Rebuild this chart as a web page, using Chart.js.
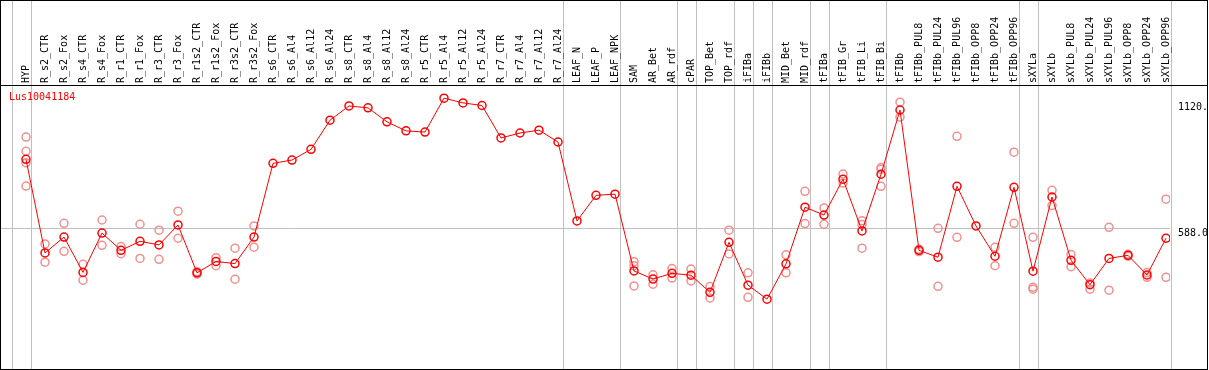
<!DOCTYPE html>
<html>
<head>
<meta charset="utf-8">
<style>
  html, body { margin: 0; padding: 0; background: #fff; }
  canvas { display: block; }
</style>
<script src="https://cdn.jsdelivr.net/npm/chart.js@4.4.1/dist/chart.umd.min.js"></script>
</head>
<body>
<canvas id="chart" width="1209" height="370"></canvas>
<script>
const geneName = "Lus10041184";

const categories = [
  "HYP", "R_s2_CTR", "R_s2_Fox", "R_s4_CTR", "R_s4_Fox", "R_r1_CTR", "R_r1_Fox",
  "R_r3_CTR", "R_r3_Fox", "R_r1s2_CTR", "R_r1s2_Fox", "R_r3s2_CTR", "R_r3s2_Fox",
  "R_s6_CTR", "R_s6_Al4", "R_s6_Al12", "R_s6_Al24", "R_s8_CTR", "R_s8_Al4",
  "R_s8_Al12", "R_s8_Al24", "R_r5_CTR", "R_r5_Al4", "R_r5_Al12", "R_r5_Al24",
  "R_r7_CTR", "R_r7_Al4", "R_r7_Al12", "R_r7_Al24", "LEAF_N", "LEAF_P", "LEAF_NPK",
  "SAM", "AR_Bet", "AR_rdf", "cPAR", "TOP_Bet", "TOP_rdf", "iFIBa", "iFIBb",
  "MID_Bet", "MID_rdf", "tFIBa", "tFIB_Gr", "tFIB_Li", "tFIB_Bi", "tFIBb",
  "tFIBb_PUL8", "tFIBb_PUL24", "tFIBb_PUL96", "tFIBb_OPP8", "tFIBb_OPP24", "tFIBb_OPP96",
  "sXYLa", "sXYLb", "sXYLb_PUL8", "sXYLb_PUL24", "sXYLb_PUL96", "sXYLb_OPP8",
  "sXYLb_OPP24", "sXYLb_OPP96"
];

// mean expression per sample
const meanValues = [
  879, 484, 551, 402, 568, 495, 533, 518, 602, 400, 448, 439, 551,
  862, 876, 921, 1044, 1104, 1096, 1037, 999, 994, 1137, 1117, 1106,
  969, 990, 1002, 952, 619, 727, 732,
  408, 374, 398, 390, 318, 529, 348, 289, 438, 677,
  644, 795, 577, 816, 1087,
  495, 466, 765, 598, 470, 761,
  407, 720, 453, 350, 461, 474, 391, 546
];

// individual replicates (null = hidden under the mean / not present)
const repA = [
  973, 522, 609, 436, 623, 511, 605, 580, 660, 405, 464, 504, 598,
  null, null, null, null, null, null, null, null, null, null, null, null,
  null, null, null, null, null, null, null,
  447, 392, 418, 416, 342, 580, 400, null, 476, 744,
  674, 817, 620, 844, 1120,
  500, 588, 976, null, 508, 909,
  550, 748, 477, 357, 592, 478, 401, 711
];
const repB = [
  913, 445, 491, 369, 516, 481, 461, 457, 546, 395, 430, 373, 508,
  null, null, null, null, null, null, null, null, null, null, null, null,
  null, null, null, null, null, null, null,
  430, 352, 378, 366, 294, 480, 297, null, 400, 608,
  605, 779, 604, 837, 1057,
  490, 343, 550, null, 430, 609,
  339, 684, 426, 331, 327, 470, 381, 381
];
const repC = [
  864, null, null, null, null, null, null, null, null, null, null, null, null,
  null, null, null, null, null, null, null, null, null, null, null, null,
  null, null, null, null, null, null, null,
  345, null, null, null, null, null, null, null, null, null,
  null, null, 504, 765, null,
  null, null, null, null, null, null,
  331, null, null, null, null, null, null, null
];
const repD = [766];

// group separators sit just after these sample indexes
const separatorsAfter = [-1, 0, 28, 31, 34, 35, 37, 38, 39, 41, 42, 45, 52, 53, 60];

const yTicks = [588, 1120];
const yTickLabels = ["588.0", "1120."];
const yZeroTicks = [0];
const yZeroLabels = ["0"];

const font = { family: "DejaVu Sans Mono", size: 10 };

const meanPoints = meanValues.map((v, i) => ({ x: i, y: v }));
const repPoints = [];
[repA, repB, repC, repD].forEach(arr => {
  arr.forEach((v, i) => { if (v !== null && v !== undefined) repPoints.push({ x: i, y: v }); });
});

const frame = {
  id: "frame",
  beforeDraw(chart) {
    const { ctx, width, height } = chart;
    const x = chart.scales.x;
    ctx.save();
    ctx.fillStyle = "#fff";
    ctx.fillRect(0, 0, width, height);
    ctx.strokeStyle = "#c0c0c0";
    ctx.lineWidth = 1;
    separatorsAfter.forEach(k => {
      const px = Math.round(x.getPixelForValue(k + 0.25)) + 0.5;
      ctx.beginPath();
      ctx.moveTo(px, 0);
      ctx.lineTo(px, 369);
      ctx.stroke();
    });
    ctx.restore();
  },
  afterDraw(chart) {
    const { ctx, width } = chart;
    ctx.save();
    ctx.fillStyle = "#fff";
    ctx.fillRect(1208, 0, width - 1208, 370);
    ctx.strokeStyle = "#000";
    ctx.lineWidth = 1;
    ctx.strokeRect(0.5, 0.5, 1207, 369);
    ctx.beginPath();
    ctx.moveTo(0, 85.5);
    ctx.lineTo(1208, 85.5);
    ctx.stroke();
    ctx.fillStyle = "#ff0000";
    ctx.font = "10px 'DejaVu Sans Mono'";
    ctx.textBaseline = "middle";
    ctx.fillText(geneName, 9, 97);
    ctx.restore();
  }
};

new Chart(document.getElementById("chart"), {
  type: "line",
  data: {
    datasets: [
      {
        data: meanPoints,
        borderColor: "#ff0000",
        borderWidth: 1,
        pointRadius: 4,
        pointBorderWidth: 1.5,
        pointBorderColor: "#ff0000",
        pointBackgroundColor: "rgba(0,0,0,0)",
        tension: 0,
        fill: false,
      },
      {
        data: repPoints,
        showLine: false,
        pointRadius: 4,
        pointBorderWidth: 1.5,
        pointBorderColor: "#f09090",
        pointBackgroundColor: "rgba(0,0,0,0)",
      },
    ],
  },
  options: {
    responsive: false,
    animation: false,
    devicePixelRatio: 1,
    events: [],
    layout: { autoPadding: false, padding: { left: 1, right: 2, top: 0, bottom: 1 } },
    plugins: { legend: { display: false }, tooltip: { enabled: false } },
    scales: {
      x: {
        type: "linear",
        position: "top",
        min: -25 / 19,
        max: 1144 / 19,
        afterBuildTicks: (s) => { s.ticks = categories.map((_, i) => ({ value: i })); },
        afterFit: (s) => { s.height = 85; s.paddingLeft = 0; s.paddingRight = 0; },
        grid: { display: false, drawTicks: false },
        border: { display: false },
        ticks: {
          autoSkip: false,
          minRotation: 90,
          maxRotation: 90,
          padding: 2,
          labelOffset: 12,
          color: "#000",
          font,
          callback: (value, index) => categories[index],
        },
      },
      y: {
        position: "right",
        weight: 1,
        min: -5.6,
        max: 1192.5,
        afterBuildTicks: (s) => { s.ticks = yTicks.map(v => ({ value: v })); },
        afterFit: (s) => { s.width = 37; s.paddingTop = 0; s.paddingBottom = 0; },
        grid: {
          drawTicks: false,
          color: (c) => (c.tick && c.tick.value === 588 ? "#c0c0c0" : "rgba(0,0,0,0)"),
        },
        border: { display: false },
        ticks: {
          align: "start",
          padding: 8,
          color: "#000",
          font,
          callback: (value, index) => yTickLabels[index],
        },
      },
      y2: {
        position: "right",
        weight: 0,
        min: -5.6,
        max: 1192.5,
        afterBuildTicks: (s) => { s.ticks = yZeroTicks.map(v => ({ value: v })); },
        afterFit: (s) => { s.width = 0; s.paddingTop = 0; s.paddingBottom = 0; },
        grid: { display: false, drawTicks: false },
        border: { display: false },
        ticks: {
          align: "end",
          padding: 8,
          color: "#000",
          font,
          callback: (value, index) => yZeroLabels[index],
        },
      },
    },
  },
  plugins: [frame],
});
</script>
</body>
</html>
